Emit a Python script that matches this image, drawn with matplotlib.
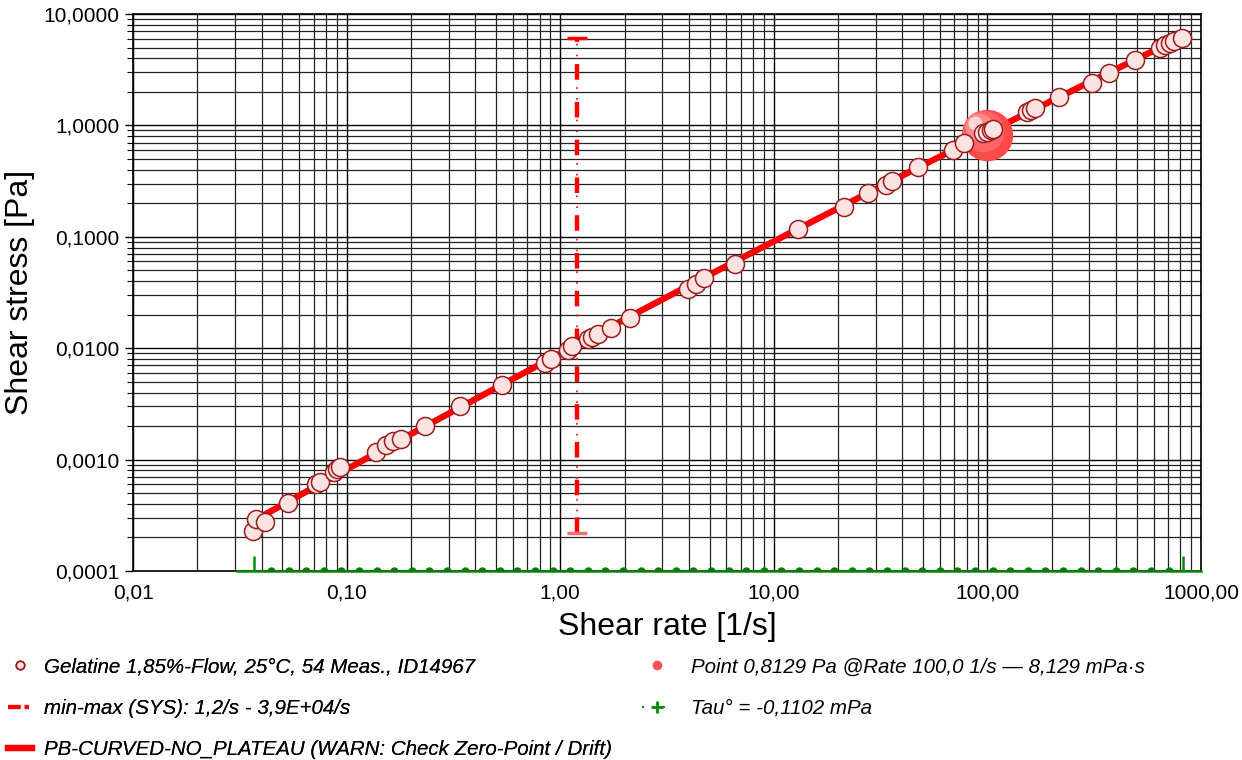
import numpy as np
import matplotlib
matplotlib.use('Agg')
import matplotlib.pyplot as plt
import matplotlib.ticker as mticker
import matplotlib.transforms as mtransforms
from matplotlib.lines import Line2D

plt.rcParams['font.family'] = ['Liberation Sans', 'DejaVu Sans']

# measured points (shear rate [1/s], shear stress [Pa])
rate = [0.0365, 0.0377, 0.0415, 0.0532, 0.0719, 0.0751, 0.0873, 0.0905, 0.0935,
        0.137, 0.153, 0.165, 0.180, 0.233, 0.340, 0.534, 0.849, 0.904, 1.088, 1.14,
        1.35, 1.41, 1.50, 1.73, 2.12, 3.97, 4.33, 4.71, 6.58, 12.98, 21.3, 27.6,
        33.5, 35.8, 47.3, 69.0, 77.7, 95.3, 99.5, 103.8, 105.8, 153, 160, 167,
        216, 309, 371, 491, 643, 680, 712, 744, 815]
stress = [0.000229, 0.000293, 0.000275, 0.000407, 0.000604, 0.000630, 0.000774, 0.00082, 0.00086,
          0.00117, 0.00135, 0.00146, 0.00152, 0.0020, 0.00303, 0.00468, 0.00736, 0.0080, 0.00963, 0.0105,
          0.0121, 0.0126, 0.0134, 0.0152, 0.0187, 0.034, 0.0375, 0.0427, 0.057, 0.117, 0.185, 0.247,
          0.292, 0.32, 0.423, 0.601, 0.695, 0.855, 0.875, 0.91, 0.93, 1.318, 1.38, 1.43,
          1.80, 2.40, 2.95, 3.86, 4.95, 5.26, 5.49, 5.73, 6.09]

# highlighted point
pt_rate, pt_stress = 100.0, 0.8129

# min-max marker
mm_rate = 1.2
mm_lo, mm_hi = 0.000219, 6.09

# Tau baseline (clipped at the bottom of the axis)
tau_rate = [0.0443, 0.0535, 0.0647, 0.0782, 0.0945, 0.1143, 0.1382, 0.167, 0.2019, 0.2441,
            0.2951, 0.3567, 0.4312, 0.5213, 0.6301, 0.7621, 0.9213, 1.114, 1.346, 1.628,
            1.968, 2.379, 2.876, 3.477, 4.203, 5.082, 6.143, 7.427, 8.978, 10.85,
            13.12, 15.86, 19.18, 23.19, 28.03, 33.88, 40.96, 49.53, 59.87, 72.38,
            87.5, 105.8, 127.9, 154.6, 186.9, 225.9, 273.2, 330.2, 399.2, 482.6,
            583.4, 705.3]
tau_line_x = [0.0307, 1000]
tau_ends = [0.037, 824]
y_floor = 0.0001

fig = plt.figure(figsize=(12.42, 7.6), dpi=100)
ax = fig.add_axes([0.1071, 0.2487, 0.8599, 0.7329])
ax.set_xscale('log')
ax.set_yscale('log')
ax.set_xlim(0.01, 1000)
ax.set_ylim(0.0001, 10)

ax.grid(True, which='major', color='black', lw=1.0, zorder=0)
ax.grid(True, which='minor', color='#222222', lw=0.9, zorder=0)
ax.set_axisbelow(True)

# fitted curve through the data (quadratic in log-log)
lx, ly = np.log10(rate), np.log10(stress)
coef = np.polyfit(lx, ly, 2)
xs = np.linspace(lx.min(), lx.max(), 200)
ax.plot(10 ** xs, 10 ** np.polyval(coef, xs), color='#ff0000', lw=4.6,
        solid_capstyle='butt', zorder=2)

# min-max vertical marker
ax.plot([mm_rate, mm_rate], [mm_lo, mm_hi], color='#ff0000', lw=3.2,
        dashes=(3.5, 5.0), zorder=3)
ax.plot([mm_rate, mm_rate], [mm_lo, mm_hi], color='#ff0000', lw=1.2,
        dashes=(1, 5.5), zorder=3)
ax.plot([mm_rate], [mm_hi], marker='_', ms=14, mew=2.5, color='#ff0000', zorder=3)
ax.plot([mm_rate], [mm_lo], marker='_', ms=14, mew=2.5, color='#f07070', zorder=3)

# highlighted point as shaded sphere
ax.plot([pt_rate], [pt_stress], 'o', ms=37, color='#ff4a4a', mec='none', zorder=3)
for k, (ms, c, a) in enumerate([(30, '#ff6a6a', 0.8), (20, '#ff9a9a', 0.7), (10, '#ffe4e4', 0.85)]):
    off = mtransforms.offset_copy(ax.transData, fig=fig, x=-3 * (k + 1), y=3 * (k + 1), units='points')
    ax.plot([pt_rate], [pt_stress], 'o', ms=ms, color=c, alpha=a, mec='none',
            transform=off, zorder=3)

# data circles
ax.plot(rate, stress, 'o', ms=13, mfc='#fde2e2', mec='#9b1c1c', mew=1.1,
        ls='none', zorder=4)

# tau baseline
ax.plot(tau_line_x, [y_floor, y_floor], color='#0a8a0a', lw=1.8, zorder=5, clip_on=False)
ax.plot(tau_rate, [y_floor] * len(tau_rate), 'o', ms=5, color='#0a7a0a', zorder=5)
ax.plot(tau_ends, [y_floor] * len(tau_ends), '|', ms=22, mew=1.8, color='#0a8a0a', zorder=5)

# ticks
ax.xaxis.set_major_locator(mticker.LogLocator(base=10, numticks=10))
ax.yaxis.set_major_locator(mticker.LogLocator(base=10, numticks=10))
ax.xaxis.set_minor_locator(mticker.LogLocator(base=10, subs=np.arange(2, 10), numticks=100))
ax.yaxis.set_minor_locator(mticker.LogLocator(base=10, subs=np.arange(2, 10), numticks=100))
ax.xaxis.set_major_formatter(mticker.FuncFormatter(lambda v, p: f'{v:.2f}'.replace('.', ',')))
ax.yaxis.set_major_formatter(mticker.FuncFormatter(lambda v, p: f'{v:.4f}'.replace('.', ',')))
ax.xaxis.set_minor_formatter(mticker.NullFormatter())
ax.yaxis.set_minor_formatter(mticker.NullFormatter())
ax.tick_params(which='major', labelsize=15, length=6, width=1, direction='out', pad=4)
ax.tick_params(which='minor', length=4, width=0.8, direction='out')
ax.tick_params(axis='x', which='both', length=0, pad=9)

for s in ax.spines.values():
    s.set_color('black')
    s.set_linewidth(1.2)

ax.set_xlabel('Shear rate [1/s]', fontsize=23, labelpad=7)
ax.set_ylabel('Shear stress [Pa]', fontsize=23, labelpad=6)

# legend
h_data = Line2D([], [], ls='none', marker='o', ms=6, mfc='#fde2e2', mec='#9b1c1c', mew=1.2)
h_mm = Line2D([], [], color='#ff0000', lw=3, dashes=(3, 1, 1, 1))
h_fit = Line2D([], [], color='#ff0000', lw=4.5)
h_pt = Line2D([], [], ls='none', marker='o', ms=7, color='#ff5050', mec='none')
h_tau = Line2D([], [], color='#0a8a0a', lw=1.5, ls=(0, (1, 4)), marker='+', ms=9, mew=2,
               markevery=[1])

lkw = dict(frameon=False, loc='upper left', labelspacing=1.1,
           prop={'style': 'italic', 'size': 14.8}, borderaxespad=0)
leg1 = fig.legend([h_data, h_mm, h_fit],
                  ['Gelatine 1,85%-Flow, 25°C, 54 Meas., ID14967',
                   'min-max (SYS): 1,2/s - 3,9E+04/s',
                   'PB-CURVED-NO_PLATEAU (WARN: Check Zero-Point / Drift)'],
                  bbox_to_anchor=(0.0, 0.146), handlelength=1.15, handletextpad=0.6, **lkw)
fig.add_artist(leg1)
fig.legend([h_pt, h_tau],
           ['Point 0,8129 Pa @Rate 100,0 1/s — 8,129 mPa·s',
            'Tau° = -0,1102 mPa'],
           bbox_to_anchor=(0.51, 0.146), handlelength=1.5, handletextpad=0.9, **lkw)

fig.savefig('out.png', dpi=100)
